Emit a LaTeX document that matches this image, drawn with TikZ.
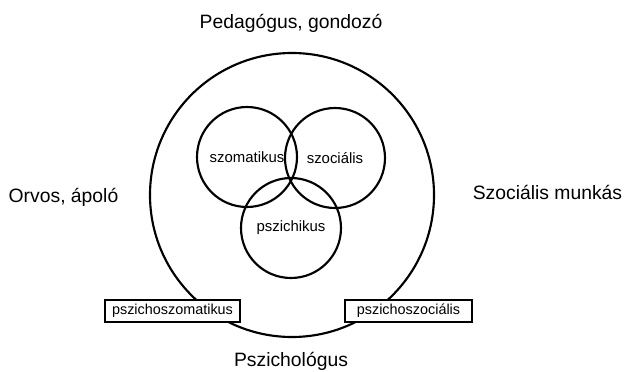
\documentclass[tikz,border=0pt]{standalone}
\usepackage{fontspec}
\setmainfont{Liberation Sans}
\begin{document}
\begin{tikzpicture}[x=0.75pt, y=-0.75pt, every node/.style={font=\fontsize{14.5}{17}\selectfont},
    field/.style={draw, circle, line width=1.6pt, minimum size=75pt, inner sep=0pt, font=\fontsize{11.2}{13}\selectfont},
    overlap/.style={draw, fill=white, line width=1.7pt, minimum height=17pt, inner sep=1pt, font=\fontsize{10.8}{12}\selectfont},
    role/.style={anchor=base}]

    \useasboundingbox (0,0) rectangle (624,371);

    % Circles
    \node (whole) at (292,195) [draw, circle, line width=1.6pt, minimum size=213pt] {};
    \node (somatic) at (247,157) [field] {szomatikus};
    \node (social) at (335,158) [field] {szociális};
    \node (psychic) at (291,228) [field] {pszichikus};

    % Boxes
    \node (psychosomatic) at (172.5,311) [overlap, minimum width=101pt] {pszichoszomatikus};
    \node (psychosocial) at (408.5,311) [overlap, minimum width=95pt] {pszichoszociális};

    % Labels
    \node (teacher) at (291,28) [role] {Pedagógus, gondozó};
    \node (doctor) at (63.5,202) [role] {Orvos, ápoló};
    \node (worker) at (547.5,199) [role] {Szociális munkás};
    \node (psychologist) at (291,366) [role] {Pszichológus};

\end{tikzpicture}
\end{document}
